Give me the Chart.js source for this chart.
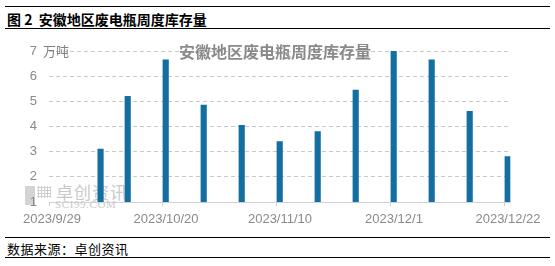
<!DOCTYPE html>
<html lang="zh">
<head>
  <meta charset="UTF-8">
  <title>安徽地区废电瓶周度库存量</title>
  <script src="https://cdn.jsdelivr.net/npm/chart.js"></script>
  <style>
    body {
      margin: 0;
      width: 555px;
      height: 266px;
      position: relative;
      background: #fff;
      font-family: "Noto Sans CJK SC", sans-serif;
      overflow: hidden;
    }
    .rule {
      position: absolute;
      left: 5px;
      width: 545px;
      height: 0;
      border-top: 1.5px solid #000;
    }
    #fig-title {
      position: absolute;
      left: 7px;
      top: 10px;
      font-size: 14px;
      font-weight: bold;
      line-height: 18px;
      color: #000;
    }
    #source {
      position: absolute;
      left: 7px;
      top: 240px;
      font-size: 13px;
      line-height: 17px;
      color: #000;
      letter-spacing: 0.5px;
    }
    #chart-box {
      position: absolute;
      left: 0;
      top: 30px;
      width: 555px;
      height: 206px;
    }
    #watermark {
      position: absolute;
      left: 25px;
      top: 185px;
      color: #c9c9c9;
      font-family: "Noto Sans CJK SC", sans-serif;
    }
    #watermark .logo {
      position: absolute;
      left: 0;
      top: 1px;
      width: 10px;
      height: 19px;
      background: #d4d4d4;
    }
    #watermark .dots {
      position: absolute;
      left: 12px;
      top: 1px;
      width: 14px;
      height: 12px;
      background-image: radial-gradient(#cfcfcf 1px, transparent 1.2px);
      background-size: 3px 3px;
    }
    #watermark .cn {
      position: absolute;
      left: 31px;
      top: -3px;
      font-size: 17px;
      line-height: 19px;
      white-space: nowrap;
      letter-spacing: 1px;
    }
    #watermark .en {
      position: absolute;
      left: 30px;
      top: 14px;
      font-family: "Liberation Serif", serif;
      font-size: 11px;
      line-height: 10px;
      white-space: nowrap;
      letter-spacing: 0.6px;
    }
    .overlay {
      position: absolute;
      white-space: nowrap;
    }
    #unit {
      left: 43px;
      top: 43px;
      font-size: 13px;
      line-height: 16px;
      color: #808080;
    }
    #inner-title {
      left: 179px;
      top: 41px;
      font-size: 16px;
      line-height: 20px;
      font-weight: bold;
      color: #8a8a8a;
    }
  </style>
</head>
<body>
  <div class="rule" style="top:6px"></div>
  <div id="fig-title">图 2&nbsp;&nbsp;安徽地区废电瓶周度库存量</div>
  <div class="rule" style="top:28px"></div>

  <div id="watermark">
    <div class="logo"></div>
    <div class="dots"></div>
    <div class="cn">卓创资讯</div>
    <div class="en">SCI99.COM</div>
  </div>
  <div id="chart-box">
    <canvas id="stockChart"></canvas>
  </div>
  <div class="overlay" id="unit">万吨</div>
  <div class="overlay" id="inner-title">安徽地区废电瓶周度库存量</div>

  <div class="rule" style="top:237px"></div>
  <div id="source">数据来源：卓创资讯</div>
  <div class="rule" style="top:257px"></div>

  <script>
    // 周度日期与库存（万吨）
    const weekDates = ['2023-10-08', '2023-10-13', '2023-10-20', '2023-10-27', '2023-11-03', '2023-11-10',
                       '2023-11-17', '2023-11-24', '2023-12-01', '2023-12-08', '2023-12-15', '2023-12-22'];
    const stockValues = [3.1, 5.2, 6.65, 4.85, 4.05, 3.4, 3.8, 5.45, 7.0, 6.65, 4.6, 2.8];

    // 横轴刻度标签
    const tickDates = ['2023-09-29', '2023-10-20', '2023-11-10', '2023-12-01', '2023-12-22'];
    const tickLabels = ['2023/9/29', '2023/10/20', '2023/11/10', '2023/12/1', '2023/12/22'];
    const yTicks = [1, 2, 3, 4, 5, 6, 7];

    const DAY = 864e5;
    const baseTime = Date.parse(tickDates[0]);
    function dayOffset(d) {
      return Math.round((Date.parse(d) - baseTime) / DAY);
    }

    const tickDays = tickDates.map(dayOffset);
    const points = weekDates.map((d, i) => ({ x: dayOffset(d) + 0.5, y: stockValues[i] }));

    const ctx = document.getElementById('stockChart').getContext('2d');
    new Chart(ctx, {
      type: 'bar',
      data: {
        datasets: [{
          data: points,
          backgroundColor: '#126f9f',
          barThickness: 5.5
        }]
      },
      options: {
        responsive: true,
        maintainAspectRatio: false,
        animation: false,
        layout: {
          padding: { top: 21, right: 44.6, left: 0, bottom: 0 }
        },
        scales: {
          x: {
            type: 'linear',
            offset: false,
            min: tickDays[0],
            max: tickDays[tickDays.length - 1] + 1,
            afterBuildTicks: function(scale) {
              scale.ticks = tickDays.map(v => ({ value: v }));
            },
            afterFit: function(scale) {
              scale.height = 34;
            },
            grid: {
              offset: false,
              drawOnChartArea: false,
              drawTicks: true,
              tickLength: 4,
              color: '#cfcfcf'
            },
            border: { display: true, color: '#d0d0d0', width: 1 },
            ticks: {
              autoSkip: false,
              maxRotation: 0,
              padding: 6,
              labelOffset: 3,
              color: '#8a8a8a',
              font: { family: '"Liberation Sans", Arial, sans-serif', size: 13 },
              callback: function(value) {
                const i = tickDays.indexOf(value);
                return i >= 0 ? tickLabels[i] : '';
              }
            }
          },
          y: {
            min: yTicks[0],
            max: yTicks[yTicks.length - 1],
            afterBuildTicks: function(scale) {
              scale.ticks = yTicks.map(v => ({ value: v }));
            },
            afterFit: function(scale) {
              scale.width = 49;
            },
            grid: {
              color: '#c8c8c8',
              lineWidth: 1,
              drawTicks: false
            },
            border: { display: false, dash: [4, 3] },
            ticks: {
              padding: 12,
              color: '#8a8a8a',
              font: { family: '"Liberation Sans", Arial, sans-serif', size: 13 }
            }
          }
        },
        plugins: {
          legend: { display: false },
          tooltip: { enabled: false }
        }
      }
    });
  </script>
</body>
</html>
